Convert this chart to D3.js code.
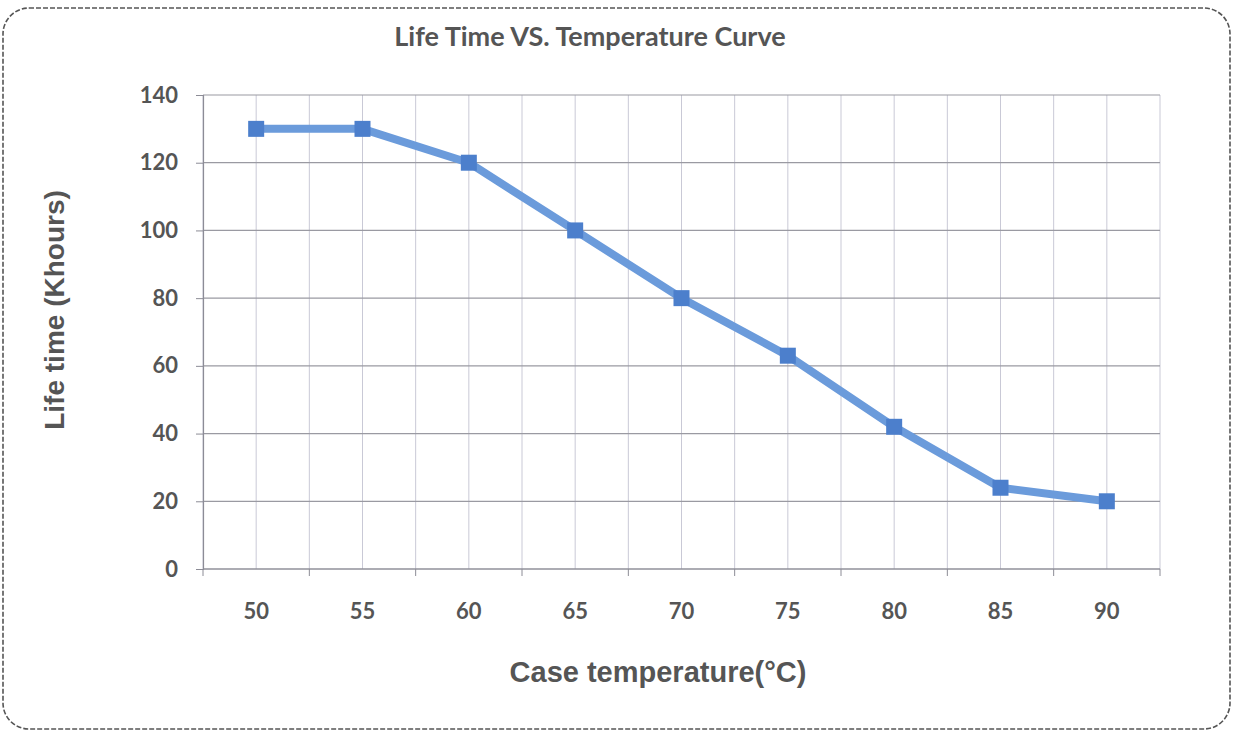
<!DOCTYPE html>
<html>
<head>
<meta charset="utf-8">
<script src="https://cdn.jsdelivr.net/npm/d3@7"></script>
<style>
  body { margin: 0; background: #fff; }
</style>
</head>
<body>
<script>
// data
var temps = ["50", "55", "60", "65", "70", "75", "80", "85", "90"];
var lifeTime = [130, 130, 120, 100, 80, 63, 42, 24, 20];
var yTicks = [0, 20, 40, 60, 80, 100, 120, 140];

var W = 1233, H = 733;
var margin = {top: 95, right: 73, bottom: 164, left: 203},
    width = W - margin.left - margin.right,
    height = H - margin.top - margin.bottom;

var svg = d3.select("body").append("svg")
    .attr("width", W)
    .attr("height", H);

// dashed rounded frame
svg.append("rect")
    .attr("x", 3).attr("y", 8)
    .attr("width", W - 6).attr("height", H - 12)
    .attr("rx", 26).attr("ry", 26)
    .attr("fill", "none")
    .attr("stroke", "#555")
    .attr("stroke-width", 1.6)
    .attr("stroke-dasharray", "5,2");

var g = svg.append("g")
    .attr("transform", "translate(" + margin.left + "," + margin.top + ")");

// scales
var x = d3.scaleBand().domain(temps).range([0, width]).padding(0);
var y = d3.scaleLinear().domain([0, 140]).range([height, 0]);
var bw = x.bandwidth();

// vertical grid: band edges and centres
var vx = [];
temps.forEach(function(t) { vx.push(x(t)); vx.push(x(t) + bw / 2); });
vx.push(width);
g.selectAll(".vgrid")
    .data(vx)
  .enter().append("line")
    .attr("class", "vgrid")
    .attr("x1", function(d) { return d; })
    .attr("x2", function(d) { return d; })
    .attr("y1", 0).attr("y2", height)
    .attr("stroke", "#c9c9d6")
    .attr("stroke-width", 1);

// horizontal grid
g.selectAll(".hgrid")
    .data(yTicks)
  .enter().append("line")
    .attr("class", "hgrid")
    .attr("x1", 0).attr("x2", width)
    .attr("y1", function(d) { return y(d); })
    .attr("y2", function(d) { return y(d); })
    .attr("stroke", "#9a9aa2")
    .attr("stroke-width", 1.2);

// y axis
var yAxis = g.append("g")
    .call(d3.axisLeft(y).tickValues(yTicks).tickSize(7).tickPadding(18));
yAxis.select(".domain").attr("stroke", "#8c8c96").attr("stroke-width", 1.2);
yAxis.selectAll(".tick line").attr("stroke", "#8c8c96");
yAxis.selectAll("text")
    .attr("fill", "#555")
    .style("font-family", "Lato, 'Open Sans', sans-serif")
    .style("font-weight", "bold")
    .style("font-size", "22px");

// x axis: ticks at band edges, labels at centres
var xAxis = g.append("g")
    .attr("transform", "translate(0," + height + ")");
xAxis.append("line")
    .attr("x1", 0).attr("x2", width)
    .attr("stroke", "#8c8c96").attr("stroke-width", 1.2);
xAxis.selectAll(".xtick")
    .data(temps.map(function(t) { return x(t); }).concat([width]))
  .enter().append("line")
    .attr("x1", function(d) { return d; })
    .attr("x2", function(d) { return d; })
    .attr("y1", 0).attr("y2", 7)
    .attr("stroke", "#8c8c96");
xAxis.selectAll(".xlabel")
    .data(temps)
  .enter().append("text")
    .attr("x", function(d) { return x(d) + bw / 2; })
    .attr("y", 50)
    .attr("text-anchor", "middle")
    .attr("fill", "#555")
    .style("font-family", "Lato, 'Open Sans', sans-serif")
    .style("font-weight", "bold")
    .style("font-size", "22px")
    .text(function(d) { return d; });

// line
var line = d3.line()
    .x(function(d, i) { return x(temps[i]) + bw / 2; })
    .y(function(d) { return y(d); });

g.append("path")
    .datum(lifeTime)
    .attr("fill", "none")
    .attr("stroke", "#6b9bdb")
    .attr("stroke-width", 8)
    .attr("stroke-linejoin", "round")
    .attr("d", line);

// square markers
g.selectAll(".marker")
    .data(lifeTime)
  .enter().append("rect")
    .attr("class", "marker")
    .attr("x", function(d, i) { return x(temps[i]) + bw / 2 - 8; })
    .attr("y", function(d) { return y(d) - 8; })
    .attr("width", 16).attr("height", 16)
    .attr("fill", "#4c7fcc");

// titles
svg.append("text")
    .attr("x", 590).attr("y", 46)
    .attr("text-anchor", "middle")
    .attr("fill", "#555")
    .style("font-family", "Lato, 'Open Sans', sans-serif")
    .style("font-weight", "bold")
    .style("font-size", "27px")
    .text("Life Time VS. Temperature Curve");

svg.append("text")
    .attr("x", 658).attr("y", 682)
    .attr("text-anchor", "middle")
    .attr("fill", "#555")
    .style("font-family", "'Liberation Sans', Arial, sans-serif")
    .style("font-weight", "bold")
    .style("font-size", "29px")
    .text("Case temperature(°C)");

svg.append("text")
    .attr("transform", "translate(64,310) rotate(-90)")
    .attr("text-anchor", "middle")
    .attr("fill", "#555")
    .style("font-family", "'Liberation Sans', Arial, sans-serif")
    .style("font-weight", "bold")
    .style("font-size", "28px")
    .text("Life time (Khours)");
</script>
</body>
</html>
